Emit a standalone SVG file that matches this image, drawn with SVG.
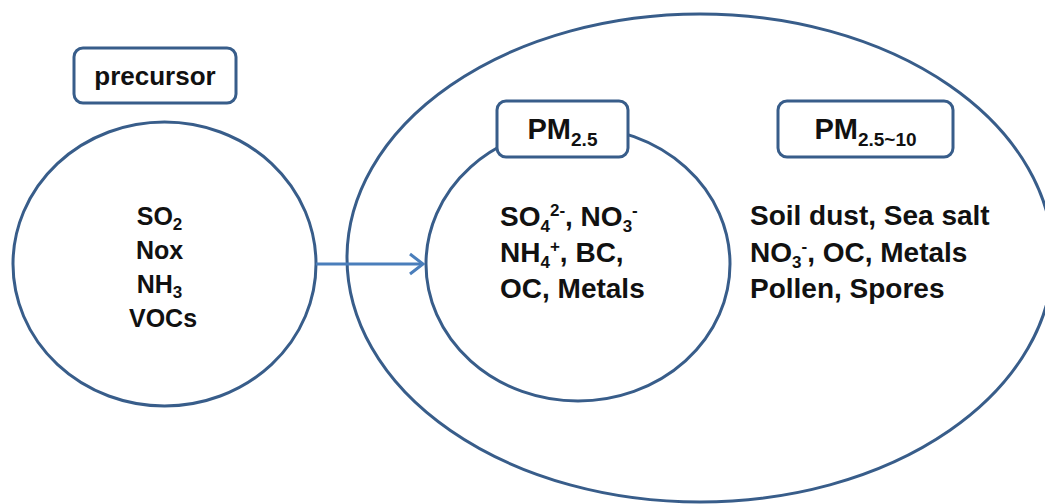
<svg xmlns="http://www.w3.org/2000/svg" width="1045" height="504" viewBox="0 0 1045 504">
<style>
.shape{fill:#fff;stroke:#385D8A;stroke-width:3}
.t{font-family:"Liberation Sans",Arial,sans-serif;font-weight:bold;fill:#111}
.s{font-size:17px}
.conn{stroke:#4A7EBB;stroke-width:3;fill:none}
</style>
<defs>
<marker id="arr" markerWidth="20" markerHeight="24" refX="15" refY="12" orient="auto" markerUnits="userSpaceOnUse">
<path d="M2,2 L15,12 L2,22" fill="none" stroke="#4A7EBB" stroke-width="3"/>
</marker>
</defs>
<rect width="1045" height="504" fill="#fff"/>
<g id="pm10-region">
<ellipse class="shape" cx="700" cy="258" rx="353" ry="244"/>
</g>
<g id="pm25-region">
<ellipse class="shape" cx="578" cy="264" rx="152" ry="137"/>
</g>
<g id="precursor-circle">
<ellipse class="shape" cx="164.5" cy="264" rx="151.5" ry="142"/>
<text class="t" font-size="25" text-anchor="middle">
<tspan x="163" y="225">SO<tspan class="s" dy="5">2</tspan></tspan>
<tspan x="163" y="259">Nox</tspan>
<tspan x="163" y="293">NH<tspan class="s" dy="5">3</tspan></tspan>
<tspan x="163" y="327">VOCs</tspan>
</text>
</g>
<g id="connectors">
<line class="conn" x1="316" y1="264" x2="423" y2="264" marker-end="url(#arr)"/>
</g>
<g id="precursor-label">
<rect class="shape" x="74" y="48" width="162" height="55" rx="9"/>
<text class="t" x="155" y="85" font-size="26" text-anchor="middle">precursor</text>
</g>
<g id="pm25-label">
<rect class="shape" x="497" y="101" width="131" height="56" rx="9"/>
<text class="t" x="562.5" y="139" font-size="29" text-anchor="middle">PM<tspan font-size="19" dy="7">2.5</tspan></text>
</g>
<g id="pm25-content">
<text class="t" font-size="28">
<tspan x="500" y="226">SO<tspan class="s" dy="6">4</tspan><tspan class="s" dy="-16">2-</tspan><tspan dy="10">, NO</tspan><tspan class="s" dy="6">3</tspan><tspan class="s" dy="-16">-</tspan></tspan>
<tspan x="500" y="262">NH<tspan class="s" dy="6">4</tspan><tspan class="s" dy="-16">+</tspan><tspan dy="10">, BC,</tspan></tspan>
<tspan x="500" y="298">OC, Metals</tspan>
</text>
</g>
<g id="pm10-label">
<rect class="shape" x="778" y="101" width="175" height="56" rx="9"/>
<text class="t" x="865.5" y="139" font-size="29" text-anchor="middle">PM<tspan font-size="19" dy="7">2.5~10</tspan></text>
</g>
<g id="pm10-content">
<text class="t" font-size="28">
<tspan x="750" y="225">Soil dust, Sea salt</tspan>
<tspan x="750" y="262">NO<tspan class="s" dy="6">3</tspan><tspan class="s" dy="-16">-</tspan><tspan dy="10">, OC, Metals</tspan></tspan>
<tspan x="750" y="298">Pollen, Spores</tspan>
</text>
</g>
</svg>
